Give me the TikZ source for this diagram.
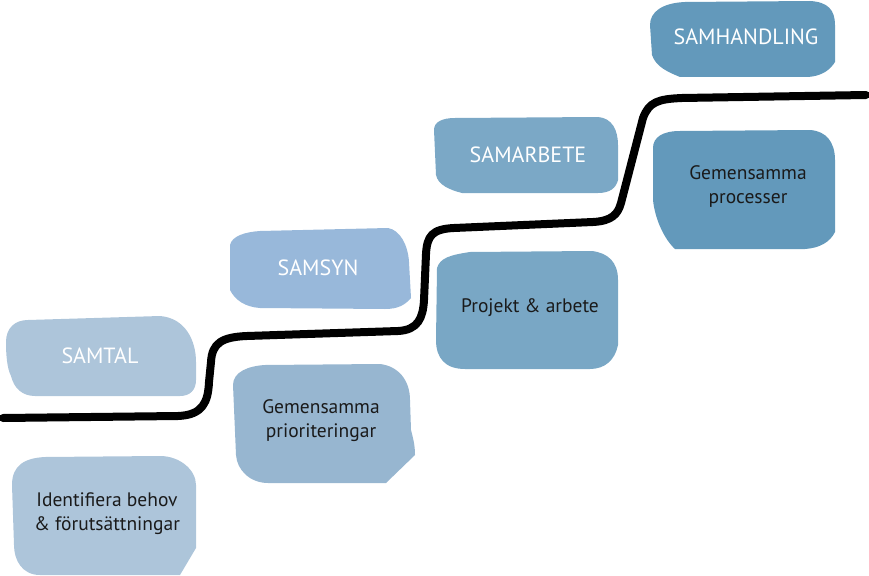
\documentclass[tikz,border=0pt]{standalone}
\usepackage{fontspec}
\setmainfont{PT Sans}
\definecolor{cA}{HTML}{ADC5DA}
\definecolor{cB}{HTML}{98B8DA}
\definecolor{cC}{HTML}{97B6D0}
\definecolor{cD}{HTML}{7BA8C6}
\definecolor{cE}{HTML}{79A7C5}
\definecolor{cF}{HTML}{6399BB}
\definecolor{ink}{HTML}{1A1A1A}
\tikzset{
  titletext/.style={text=white,font=\fontsize{22}{26}\selectfont,inner sep=0pt},
  bodytext/.style={text=ink,font=\fontsize{19.5}{24}\selectfont,align=center,inner sep=0pt},
  stairline/.style={line width=8pt,line cap=round,line join=round,black}
}
\begin{document}
\begin{tikzpicture}[x=1pt,y=-1pt]
\useasboundingbox (0,0) rectangle (869,575);
% blobs
\fill[cA] (28,320) -- (160,316) .. controls (185,318) and (196,340) .. (196,362) -- (196,380) .. controls (196,390) and (190,396) .. (180,396) -- (35,396) .. controls (22,396) and (14,388) .. (11,376) .. controls (7,368) and (6,355) .. (6,342) .. controls (6,328) and (15,320) .. (28,320) -- cycle;
\fill[cA] (12,485) .. controls (12,465) and (25,458) .. (45,457) -- (160,456) .. controls (180,456) and (196,470) .. (196,485) -- (196,548) -- (180,575) -- (40,575) .. controls (22,575) and (14,560) .. (14,545) -- cycle;
\fill[cB] (230,245) .. controls (232,236) and (245,232) .. (260,231) -- (388,228) .. controls (400,230) and (408,245) .. (409,262) -- (411,298) .. controls (405,305) and (398,309) .. (385,309) -- (260,308) .. controls (245,307) and (235,300) .. (230,290) -- cycle;
\fill[cC] (233,385) .. controls (233,372) and (248,366) .. (265,365) -- (380,364) .. controls (398,366) and (410,380) .. (410,400) -- (411,430) .. controls (413,438) and (415,445) .. (415,455) -- (386,483) -- (268,483) .. controls (250,483) and (237,470) .. (236,455) -- cycle;
\fill[cD] (434,130) .. controls (434,122) and (442,118) .. (455,118) -- (598,117) .. controls (612,118) and (618,130) .. (618,145) -- (618,180) .. controls (616,188) and (610,193) .. (598,193) -- (462,193) .. controls (450,190) and (438,185) .. (436,175) -- cycle;
\fill[cE] (437,268) .. controls (440,258) and (450,255) .. (470,252) -- (592,251) .. controls (608,253) and (618,262) .. (618,280) -- (618,345) .. controls (615,360) and (605,369) .. (590,369) -- (465,369) .. controls (445,369) and (436,358) .. (436,340) -- cycle;
\fill[cF] (650,25) .. controls (650,12) and (662,3) .. (685,2) -- (810,1) .. controls (828,2) and (835,10) .. (835,25) -- (835,62) .. controls (830,70) and (822,76) .. (808,77) -- (680,77) .. controls (668,72) and (656,67) .. (652,55) -- cycle;
\fill[cF] (653,148) .. controls (653,137) and (663,131) .. (680,131) -- (810,130) .. controls (826,131) and (835,142) .. (835,160) -- (835,232) .. controls (830,242) and (820,248) .. (805,249) -- (675,249) .. controls (665,240) and (655,220) .. (653,200) -- cycle;
% stair line
\draw[stairline] (3,418) -- (178,416) .. controls (203,415) and (208,402) .. (209,382) -- (211,362) .. controls (212,343) and (222,337) .. (247,336) -- (398,331) .. controls (418,330) and (423,318) .. (424,300) -- (426,254) .. controls (427,236) and (432,229) .. (454,228) -- (593,222) .. controls (612,221) and (618,214) .. (621,203) -- (643,118) .. controls (649,102) and (658,99) .. (682,98) -- (866,95);
% texts
\node[titletext] (samtal) at (100,356) {SAMTAL};
\node[bodytext] (identifiera) at (107,514) {Identifiera behov\\\& förutsättningar};
\node[titletext] (samsyn) at (318,268) {SAMSYN};
\node[bodytext] (prior) at (321,421) {Gemensamma\\prioriteringar};
\node[titletext] (samarbete) at (528,155) {SAMARBETE};
\node[bodytext] (projekt) at (530,308) {Projekt \& arbete};
\node[titletext] (samhandling) at (746,37) {SAMHANDLING};
\node[bodytext] (processer) at (748,187) {Gemensamma\\processer};
\end{tikzpicture}
\end{document}
